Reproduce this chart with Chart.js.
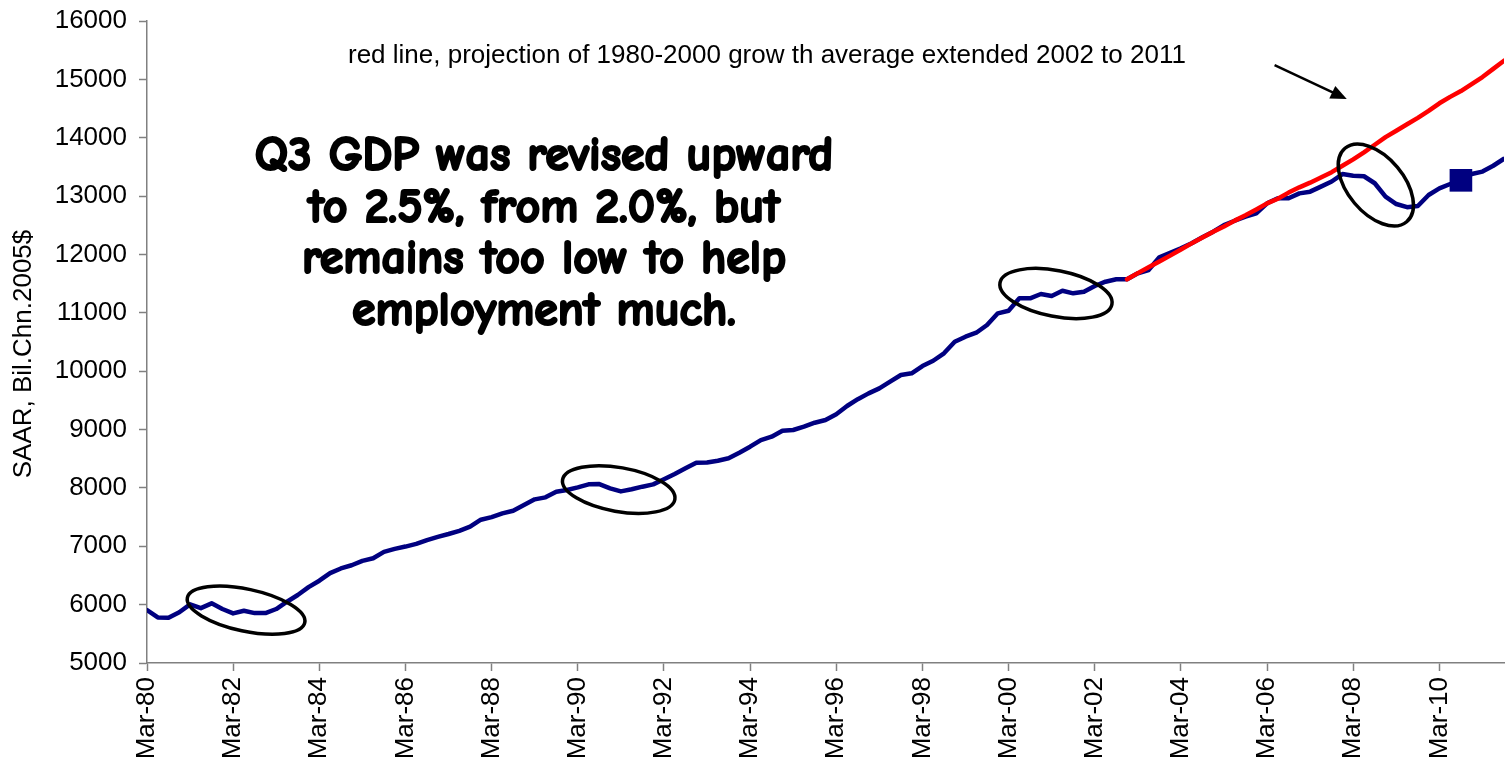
<!DOCTYPE html>
<html>
<head>
<meta charset="utf-8">
<title>Real GDP vs. 1980-2000 growth path</title>
<script src="https://cdn.jsdelivr.net/npm/chart.js@4.4.3/dist/chart.umd.min.js"></script>
<style>
  html, body { margin: 0; padding: 0; background: #fff; }
  canvas { display: block; }
</style>
</head>
<body>
<canvas id="gdpChart" width="1507" height="765"></canvas>
<script>
/* Real GDP (SAAR, billions of chained 2005 $), quarterly Mar-80 .. Sep-11,
   with the 1980-2000 average growth path carried on from Dec-02 */

// axis labels, one every two years (8 quarters)
const tickEvery  = 8;
const tickLabels = ['Mar-80','Mar-82','Mar-84','Mar-86','Mar-88','Mar-90','Mar-92','Mar-94',
                    'Mar-96','Mar-98','Mar-00','Mar-02','Mar-04','Mar-06','Mar-08','Mar-10'];

// actual GDP, one value per quarter
const gdp = [
  5907, 5780, 5776, 5870, 6005, 5940, 6022, 5925,   // 1980-81
  5850, 5896, 5855, 5855, 5925, 6050, 6165, 6300,   // 1982-83
  6410, 6540, 6620, 6675, 6750, 6795, 6905, 6955,   // 1984-85
  6995, 7040, 7105, 7160, 7210, 7265, 7335, 7455,   // 1986-87
  7500, 7564, 7609, 7707, 7804, 7838, 7935, 7964,   // 1988-89
  8010, 8061, 8065, 7993, 7940, 7976, 8021, 8061,   // 1990-91
  8147, 8238, 8335, 8432, 8435, 8466, 8507, 8603,   // 1992-93
  8706, 8820, 8877, 8980, 8992, 9049, 9117, 9163,   // 1994-95
  9261, 9403, 9520, 9620, 9706, 9820, 9934, 9963,   // 1996-97
  10088, 10179, 10306, 10505, 10591, 10659, 10791, 10991,   // 1998-99
  11036, 11248, 11248, 11322, 11288, 11379, 11334, 11362,   // 2000-01
  11459, 11533, 11574, 11574, 11677, 11733, 11951, 12030,   // 2002-03
  12105, 12191, 12294, 12390, 12504, 12578, 12647, 12705,   // 2004-05
  12876, 12962, 12962, 13047, 13076, 13162, 13250, 13378,   // 2006-07
  13350, 13340, 13220, 12990, 12864, 12810, 12830, 13019,   // 2008-09
  13133, 13207, 13270, 13378, 13420, 13520, 13640          // 2010-11
];

// projected path, starting at the Dec-02 quarter
const trendStart = 91;
const trend = [
  11574, 11680, 11780, 11880, 11980, 12085, 12190, 12290, 12390,
  12480, 12580, 12670, 12770, 12875, 12955, 13060, 13150, 13230,
  13320, 13410, 13520, 13630, 13750, 13880, 14010, 14120, 14230,
  14340, 14460, 14590, 14700, 14800, 14920, 15040, 15180, 15320
];

// quarter marked with a square (Sep-10)
const markIndex = 122;

const NAVY = '#000080';
const RED  = '#ff0000';
const AXIS = '#808080';
const SANS = '"Liberation Sans", Arial, Helvetica, sans-serif';
const COMIC = '"Comic Sans MS", "Comic Neue", "DejaVu Sans", sans-serif';

// hand-drawn style callouts: centre in data units, size in px
const rings = [
  { q: 9.2,   v: 5905,  rx: 60, ry: 21, rot: 12 },
  { q: 43.8,  v: 7972,  rx: 57, ry: 22, rot: 10 },
  { q: 84.4,  v: 11331, rx: 57, ry: 23, rot: 11 },
  { q: 114.1, v: 13190, rx: 48, ry: 28, rot: 50 }
];
const arrow = { from: [104.7, 15246], to: [111.4, 14663] };

const yTitle = 'SAAR, Bil.Chn.2005$';
const noteLines = ['Q3 GDP was revised upward', 'to 2.5%, from 2.0%, but',
                   'remains too low to help', 'employment much.'];
const redNote = 'red line, projection of 1980-2000 grow th average extended 2002 to 2011';

const callouts = {
  id: 'callouts',
  afterDatasetsDraw(chart) {
    const { ctx, scales: { x, y } } = chart;
    ctx.save();

    // ellipses
    ctx.strokeStyle = '#000';
    ctx.lineWidth = 3.5;
    rings.forEach(r => {
      ctx.beginPath();
      ctx.ellipse(x.getPixelForValue(r.q), y.getPixelForValue(r.v), r.rx, r.ry,
                  r.rot * Math.PI / 180, 0, Math.PI * 2);
      ctx.stroke();
    });

    // arrow pointing at the red line
    const x0 = x.getPixelForValue(arrow.from[0]), y0 = y.getPixelForValue(arrow.from[1]);
    const x1 = x.getPixelForValue(arrow.to[0]),   y1 = y.getPixelForValue(arrow.to[1]);
    const ang = Math.atan2(y1 - y0, x1 - x0);
    const c = Math.cos(ang), s = Math.sin(ang);
    ctx.lineWidth = 2.5;
    ctx.beginPath();
    ctx.moveTo(x0, y0);
    ctx.lineTo(x1 - 12 * c, y1 - 12 * s);
    ctx.stroke();
    ctx.fillStyle = '#000';
    ctx.beginPath();
    ctx.moveTo(x1, y1);
    ctx.lineTo(x1 - 16 * c + 7 * s, y1 - 16 * s - 7 * c);
    ctx.lineTo(x1 - 16 * c - 7 * s, y1 - 16 * s + 7 * c);
    ctx.closePath();
    ctx.fill();

    // small note at the top
    ctx.font = '26px ' + SANS;
    ctx.textAlign = 'left';
    ctx.textBaseline = 'alphabetic';
    ctx.fillText(redNote, 348, 63);

    // y axis title, rotated
    ctx.save();
    ctx.translate(24, 354);
    ctx.rotate(-Math.PI / 2);
    ctx.font = '26px ' + SANS;
    ctx.textAlign = 'center';
    ctx.textBaseline = 'middle';
    ctx.fillText(yTitle, 0, 0);
    ctx.restore();

    // big comment, sized so the first line spans ~580px, stroked for weight
    ctx.font = 'bold 40px ' + COMIC;
    const size = 40 * 578 / ctx.measureText(noteLines[0]).width;
    ctx.font = 'bold ' + size.toFixed(1) + 'px ' + COMIC;
    ctx.textAlign = 'center';
    ctx.lineWidth = 2.2;
    ctx.lineJoin = 'round';
    noteLines.forEach((t, i) => {
      ctx.fillText(t, 544, 170 + i * 51.7);
      ctx.strokeText(t, 544, 170 + i * 51.7);
    });

    ctx.restore();
  }
};

new Chart(document.getElementById('gdpChart'), {
  type: 'line',
  data: {
    datasets: [
      { label: 'Projection', data: trend.map((v, i) => ({ x: trendStart + i, y: v })),
        borderColor: RED, borderWidth: 4.5, pointRadius: 0, order: 0,
        borderJoinStyle: 'round', borderCapStyle: 'round' },
      { label: 'Real GDP', data: gdp.map((v, i) => ({ x: i, y: v })),
        borderColor: NAVY, borderWidth: 4.5, order: 1,
        borderJoinStyle: 'round', borderCapStyle: 'round',
        pointStyle: 'rect', pointBackgroundColor: NAVY, pointBorderWidth: 0,
        pointRadius: c => c.dataIndex === markIndex ? 16 : 0 }
    ]
  },
  options: {
    responsive: false, animation: false, devicePixelRatio: 1,
    layout: { padding: { top: 21, right: 3, left: 0, bottom: 0 } },
    plugins: { legend: { display: false }, tooltip: { enabled: false } },
    scales: {
      x: {
        type: 'linear', min: 0, max: gdp.length - 1,
        grid: { drawOnChartArea: false, color: AXIS, tickLength: 8, tickWidth: 1.5 },
        border: { color: AXIS, width: 1.5 },
        ticks: { stepSize: tickEvery, includeBounds: false, autoSkip: false,
                 minRotation: 90, maxRotation: 90, padding: 6, color: '#000',
                 font: { family: SANS, size: 26 },
                 callback: v => tickLabels[v / tickEvery] },
        afterFit: s => { s.height = 102; s.paddingLeft = 0; s.paddingRight = 0; }
      },
      y: {
        min: 5000, max: 16000,
        grid: { drawOnChartArea: false, color: AXIS, tickLength: 8, tickWidth: 1.5 },
        border: { color: AXIS, width: 1.5 },
        ticks: { stepSize: 1000, padding: 12, color: '#000',
                 font: { family: SANS, size: 26 }, callback: v => String(v) },
        afterFit: s => { s.width = 147; s.paddingTop = 0; s.paddingBottom = 0; }
      }
    }
  },
  plugins: [callouts]
});
</script>
</body>
</html>
